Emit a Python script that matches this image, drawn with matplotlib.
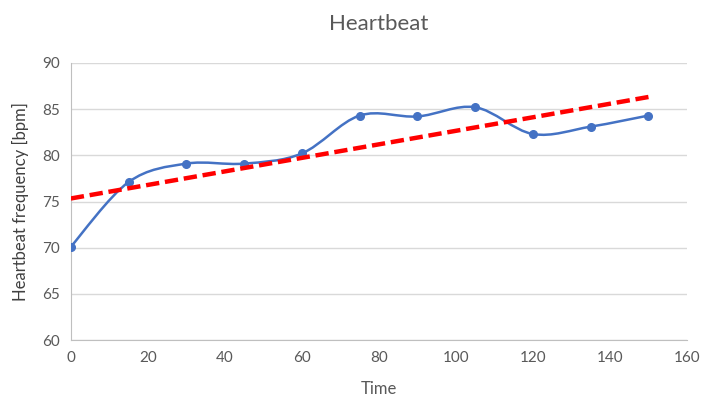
import numpy as np
import matplotlib
matplotlib.use("Agg")
import matplotlib.pyplot as plt
from matplotlib.path import Path
from matplotlib.patches import PathPatch

plt.rcParams["font.family"] = ["Lato", "DejaVu Sans"]

time = [0, 15, 30, 45, 60, 75, 90, 105, 120, 135, 150]
bpm = [70.1, 77.1, 79.1, 79.1, 80.2, 84.3, 84.2, 85.2, 82.3, 83.1, 84.3]

BLUE = "#4472C4"
GREY = "#595959"


def smooth_path(x, y):
    """Excel-style smoothed line: cubic Bezier segments with Catmull-Rom control points."""
    x = np.asarray(x, float); y = np.asarray(y, float)
    n = len(x)
    verts = [(x[0], y[0])]
    codes = [Path.MOVETO]
    for i in range(n - 1):
        p0 = np.array([x[max(i - 1, 0)], y[max(i - 1, 0)]])
        p1 = np.array([x[i], y[i]])
        p2 = np.array([x[i + 1], y[i + 1]])
        p3 = np.array([x[min(i + 2, n - 1)], y[min(i + 2, n - 1)]])
        c1 = p1 + (p2 - p0) / 6
        c2 = p2 - (p3 - p1) / 6
        verts += [tuple(c1), tuple(c2), tuple(p2)]
        codes += [Path.CURVE4] * 3
    return Path(verts, codes)


fig = plt.figure(figsize=(7.01, 4.03), dpi=100)
ax = fig.add_axes([0.101, 0.156, 0.879, 0.688])

ax.add_patch(PathPatch(smooth_path(time, bpm), facecolor="none", edgecolor=BLUE,
                       lw=1.8, zorder=3))
ax.plot(time, bpm, ls="none", marker="o", ms=5.5, color=BLUE, zorder=4)

# linear trendline
k, b = np.polyfit(time, bpm, 1)
tx = np.array([time[0], time[-1]])
ax.plot(tx, k * tx + b, ls=(0, (3.0, 1.3)), lw=3.2, color="#FF0000", zorder=5)

ax.set_xlim(0, 160)
ax.set_ylim(60, 90)
ax.set_xticks(range(0, 161, 20))
ax.set_yticks(range(60, 91, 5))
ax.grid(axis="y", color="#D9D9D9", lw=1)
ax.set_axisbelow(True)
for s in ["top", "right"]:
    ax.spines[s].set_visible(False)
for s in ["left", "bottom"]:
    ax.spines[s].set_color("#BFBFBF")
ax.tick_params(length=0, labelsize=11, labelcolor=GREY, pad=8)
ax.set_title("Heartbeat", fontsize=16, color=GREY, pad=24)
ax.set_xlabel("Time", fontsize=12, color=GREY, labelpad=11)
ax.set_ylabel("Heartbeat frequency [bpm]", fontsize=12, color="#404040", labelpad=9)

fig.savefig("out.png", dpi=100)
